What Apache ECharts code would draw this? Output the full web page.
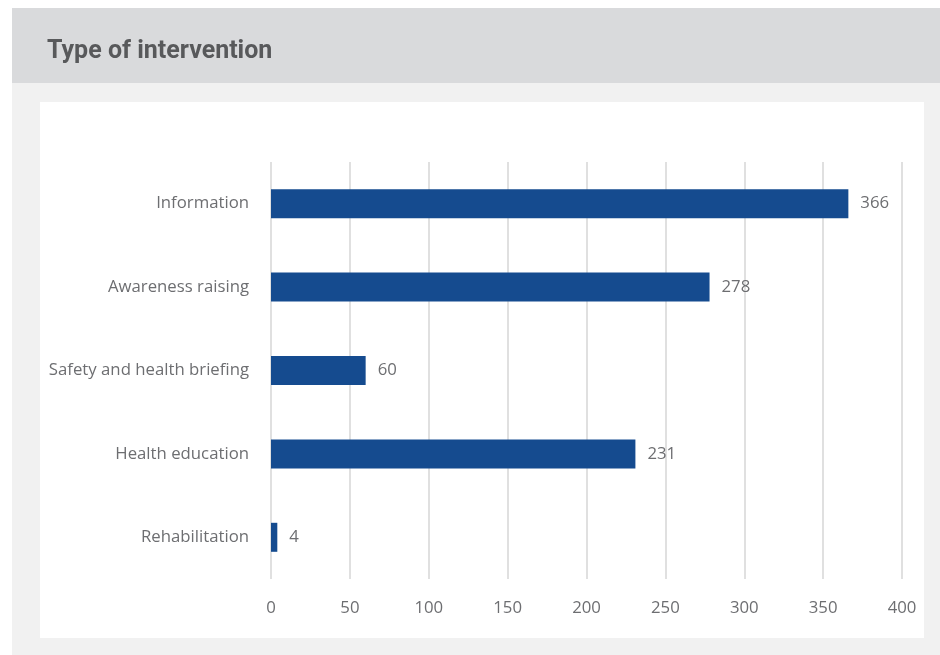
<!DOCTYPE html>
<html>
<head>
<meta charset="utf-8">
<script src="https://cdn.jsdelivr.net/npm/echarts@6/dist/echarts.min.js"></script>
<style>
html,body{margin:0;padding:0;background:#ffffff;}
#chart{width:940px;height:655px;}
</style>
</head>
<body>
<div id="chart"></div>
<script>
const titleText = 'Type of intervention';
const categories = ['Information', 'Awareness raising', 'Safety and health briefing', 'Health education', 'Rehabilitation'];
const values = [366, 278, 60, 231, 4];
const axisTicks = [0, 50, 100, 150, 200, 250, 300, 350, 400];

const chart = echarts.init(document.getElementById('chart'));
const labelFont = '"Open Sans", "Noto Sans", sans-serif';
chart.setOption({
  animation: false,
  backgroundColor: '#ffffff',
  graphic: [
    { type: 'rect', z: -10, shape: { x: 12, y: 8, width: 928, height: 75 }, style: { fill: '#d9dadc' } },
    { type: 'rect', z: -10, shape: { x: 12, y: 83, width: 928, height: 572 }, style: { fill: '#f1f1f1' } },
    { type: 'rect', z: -10, shape: { x: 40, y: 102, width: 884, height: 536 }, style: { fill: '#ffffff' } }
  ],
  title: {
    text: titleText,
    left: 42, top: 34,
    textStyle: { fontFamily: 'Roboto, "Noto Sans", sans-serif', fontWeight: 'bold', fontSize: 25, color: '#58595b' }
  },
  grid: { left: 271, right: 38, top: 162, bottom: 76, containLabel: false },
  xAxis: {
    type: 'value', min: axisTicks[0], max: axisTicks[axisTicks.length - 1], interval: 50,
    axisLine: { show: false }, axisTick: { show: false },
    splitLine: { show: true, lineStyle: { color: '#d6d6d6', width: 1.5 } },
    axisLabel: { margin: 21, fontFamily: labelFont, fontSize: 16.75, color: '#6d6e71' }
  },
  yAxis: {
    type: 'category', data: categories, inverse: true,
    axisLine: { show: false }, axisTick: { show: false },
    axisLabel: { margin: 22, fontFamily: labelFont, fontSize: 16.75, color: '#6d6e71' }
  },
  series: [{
    type: 'bar', data: values, barWidth: 29,
    itemStyle: { color: '#154b8f' },
    label: { show: true, position: 'right', distance: 12, fontFamily: labelFont, fontSize: 16.75, color: '#6d6e71' }
  }]
});
</script>
</body>
</html>
